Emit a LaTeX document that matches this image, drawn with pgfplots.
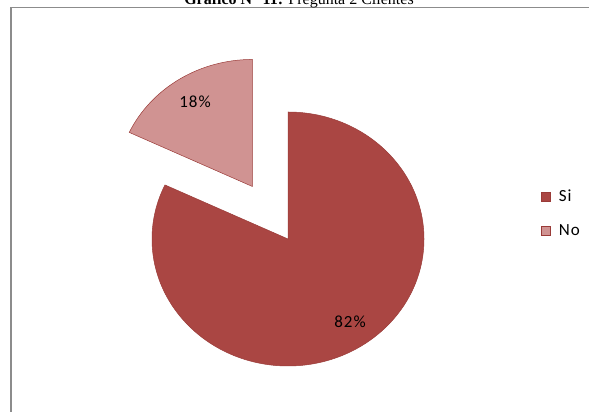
\documentclass[border=0pt]{standalone}
\usepackage{pgfplots}
\usepackage{pgfplotstable}
\pgfplotsset{compat=1.18}
\usepackage{fontspec}
\setmainfont{Liberation Serif}
\newfontfamily\carl[LetterSpace=6]{Carlito}
\definecolor{sired}{HTML}{AA4643}
\definecolor{sidark}{HTML}{9A3B38}
\definecolor{nored}{HTML}{D09392}
\definecolor{frame}{HTML}{8C8C8C}
\pgfplotstableread{
label value
Si 82
No 18
}\piedata
\begin{document}
\begin{tikzpicture}
\pgfplotstablegetelem{0}{value}\of\piedata \let\vsi\pgfplotsretval
\pgfplotstablegetelem{1}{value}\of\piedata \let\vno\pgfplotsretval
\begin{axis}[
  scale only axis, width=589pt, height=412pt,
  xmin=0, xmax=589, ymin=0, ymax=412,
  hide axis, clip=true,
  legend style={draw=none, fill=none, at={(axis cs:541,224)}, anchor=north west,
    font=\carl\fontsize{17}{18}\selectfont, row sep=17pt, inner sep=0pt},
  legend cell align=left,
]
\addlegendimage{area legend, legend image code/.code={\fill[sired,draw=sidark,line width=0.6pt] (0pt,-4.5pt) rectangle (9pt,4.5pt);}}
\addlegendentry{\hspace{6pt}Si}
\addlegendimage{area legend, legend image code/.code={\fill[nored,draw=sidark,line width=0.6pt] (0pt,-4.5pt) rectangle (9pt,4.5pt);}}
\addlegendentry{\hspace{6pt}No}
% frame
\draw[frame, line width=1.6pt] (axis cs:11,-10) -- (axis cs:11,404.5) -- (axis cs:620,404.5);
% title (partially cut off at the top, as in the reference)
\node[anchor=base, inner sep=0pt, font=\fontsize{16}{18}\selectfont] at (axis cs:299,407.6) {\textbf{Gráfico N° 11:} Pregunta 2 Clientes};
% pie
\pgfmathsetmacro\siend{90-3.6*\vsi}
\pgfmathsetmacro\noend{90+3.6*\vno}
\pgfmathsetmacro\nomid{90+1.8*\vno}
\pgfmathsetmacro\ox{0.49*136*cos(\nomid)}
\pgfmathsetmacro\oy{0.49*127*sin(\nomid)}
\fill[sired, draw=sidark, line width=0.5pt] (axis cs:288,173) -- ++(90:127pt) arc[start angle=90, end angle=\siend, x radius=136pt, y radius=127pt] -- cycle;
\fill[nored, draw=sidark, line width=0.5pt] (axis cs:288+\ox,173+\oy) -- ++(0pt,127pt) arc[start angle=90, end angle=\noend, x radius=136pt, y radius=127pt] -- cycle;
\node[font=\carl\fontsize{17}{18}\selectfont] at (axis cs:195,310) {18\%};
\node[font=\carl\fontsize{17}{18}\selectfont] at (axis cs:350,90) {82\%};
\end{axis}
\pgfresetboundingbox
\useasboundingbox (current axis.south west) rectangle (current axis.north east);
\end{tikzpicture}
\end{document}
